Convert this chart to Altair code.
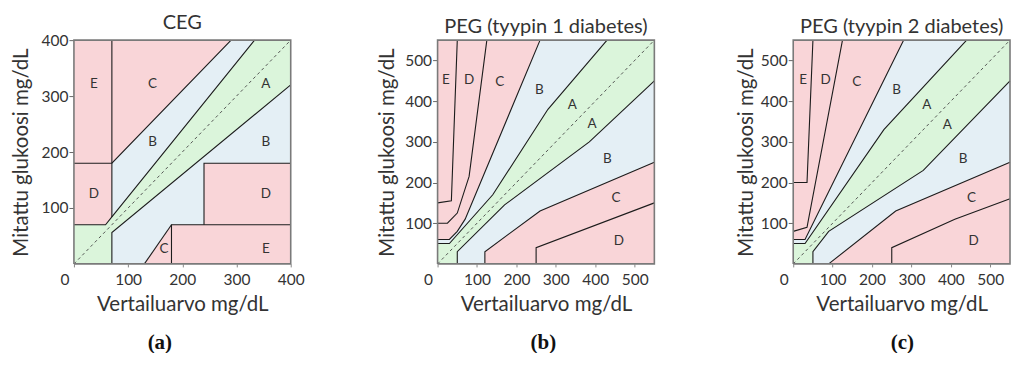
import altair as alt
import pandas as pd

PINK = "#f9d5d8"
BLUE = "#e4eff5"
GREEN = "#dbf5db"
LINE = "#1c1c1c"
TXT = "#333333"

# ---------------- CEG (Clarke error grid) ----------------
ceg_max = 400
ceg_xticks = [0, 100, 200, 300, 400]
ceg_yticks = [100, 200, 300, 400]
ceg_zone_b = [[(0, 0), (400, 0), (400, 400), (0, 400), (0, 0)]]
ceg_zone_a = [[(0, 0), (0, 70), (58.33, 70), (70, 84), (333.33, 400), (400, 400),
               (400, 320), (70, 56), (70, 0)]]
ceg_zone_red = [
    [(0, 70), (0, 400), (290, 400), (70, 180), (70, 84), (58.33, 70)],
    [(130, 0), (180, 70), (400, 70), (400, 0)],
    [(240, 70), (240, 180), (400, 180), (400, 70)],
]
ceg_lines = [
    [(0, 70), (58.33, 70), (70, 84), (333.33, 400)],
    [(70, 0), (70, 56), (400, 320)],
    [(70, 84), (70, 400)],
    [(0, 180), (70, 180), (290, 400)],
    [(130, 0), (180, 70)],
    [(180, 0), (180, 70), (400, 70)],
    [(240, 70), (240, 180), (400, 180)],
]
ceg_labels = ["E", "C", "A", "B", "B", "D", "D", "C", "E"]
ceg_label_x = [37, 145, 354, 145, 354, 37, 354, 166, 354]
ceg_label_y = [321, 321, 321, 218, 218, 125, 125, 27, 27]

# ---------------- PEG type 1 ----------------
peg_max = 550
peg_xticks = [0, 100, 200, 300, 400, 500]
peg_yticks = [100, 200, 300, 400, 500]
peg1_zone_b = [[(0, 0), (550, 0), (550, 550), (0, 550), (0, 0)]]
peg1_zone_a = [[(0, 0), (0, 50), (30, 50), (140, 170), (280, 380), (430, 550), (550, 550),
                (550, 450), (385, 300), (170, 145), (50, 30), (50, 0)]]
peg1_zone_red = [
    [(0, 60), (30, 60), (50, 80), (70, 110), (260, 550), (0, 550)],
    [(120, 0), (120, 30), (260, 130), (550, 250), (550, 0)],
]
peg1_lines = [
    [(0, 50), (30, 50), (140, 170), (280, 380), (430, 550)],
    [(50, 0), (50, 30), (170, 145), (385, 300), (550, 450)],
    [(0, 60), (30, 60), (50, 80), (70, 110), (260, 550)],
    [(120, 0), (120, 30), (260, 130), (550, 250)],
    [(0, 100), (25, 100), (50, 125), (80, 215), (125, 550)],
    [(250, 0), (250, 40), (550, 150)],
    [(0, 150), (35, 155), (50, 550)],
]
peg1_labels = ["E", "D", "C", "B", "A", "A", "B", "C", "D"]
peg1_label_x = [21, 80, 158, 258, 342, 392, 431, 453, 460]
peg1_label_y = [452, 452, 447, 427, 391, 343, 259, 161, 57]

# ---------------- PEG type 2 ----------------
peg2_zone_b = [[(0, 0), (550, 0), (550, 550), (0, 550), (0, 0)]]
peg2_zone_a = [[(0, 0), (0, 50), (30, 50), (230, 330), (440, 550), (550, 550),
                (550, 450), (330, 230), (90, 80), (50, 30), (50, 0)]]
peg2_zone_red = [
    [(0, 60), (30, 60), (280, 550), (0, 550)],
    [(90, 0), (260, 130), (550, 250), (550, 0)],
]
peg2_lines = [
    [(0, 50), (30, 50), (230, 330), (440, 550)],
    [(50, 0), (50, 30), (90, 80), (330, 230), (550, 450)],
    [(0, 60), (30, 60), (280, 550)],
    [(90, 0), (260, 130), (550, 250)],
    [(0, 80), (35, 90), (125, 550)],
    [(250, 0), (250, 40), (410, 110), (550, 160)],
    [(0, 200), (35, 200), (50, 550)],
]
peg2_labels = ["E", "D", "C", "B", "A", "A", "B", "C", "D"]
peg2_label_x = [25, 82, 161, 262, 339, 391, 431, 452, 458]
peg2_label_y = [452, 452, 447, 427, 391, 342, 259, 161, 57]


def to_df(polys):
    rows = []
    for k, pts in enumerate(polys):
        for i, (x, y) in enumerate(pts):
            rows.append({"x": x, "y": y, "pid": k, "i": i})
    return pd.DataFrame(rows)


def panel(title, caption, cap_dx, ytp, vmax, xticks, yticks, zb, za, zr, lines, lt, lx, ly):
    X = alt.X("x:Q", scale=alt.Scale(domain=[0, vmax], nice=False, zero=False),
              title="Vertailuarvo mg/dL",
              axis=alt.Axis(values=xticks, grid=False, domain=False, labelFlush=False,
                            tickSize=3, tickColor="#888", labelPadding=6,
                            labelAlign={"condition": {"test": "datum.value === 0", "value": "right"}, "value": "center"},
                            labelOffset={"condition": {"test": "datum.value === 0", "value": -5}, "value": 0},
                            labelFont="Lato", labelFontSize=15.5, labelColor=TXT,
                            titleFont="Lato", titleFontSize=20.5, titleFontWeight="normal",
                            titleColor=TXT, titlePadding=6))
    Y = alt.Y("y:Q", scale=alt.Scale(domain=[0, vmax], nice=False, zero=False),
              title="Mitattu glukoosi mg/dL",
              axis=alt.Axis(values=yticks, grid=False, domain=False,
                            tickSize=5, tickColor="#666", labelPadding=1,
                            labelFont="Lato", labelFontSize=15.5, labelColor=TXT,
                            titleFont="Lato", titleFontSize=20.5, titleFontWeight="normal",
                            titleColor=TXT, titlePadding=ytp))
    fb = alt.Chart(to_df(zb)).mark_line(filled=True).encode(
        x=X, y=Y, detail="pid:N", order="i:Q", color=alt.value(BLUE))
    fa = alt.Chart(to_df(za)).mark_line(filled=True).encode(
        x=X, y=Y, detail="pid:N", order="i:Q", color=alt.value(GREEN))
    fr = alt.Chart(to_df(zr)).mark_line(filled=True).encode(
        x=X, y=Y, detail="pid:N", order="i:Q", color=alt.value(PINK))
    diag = alt.Chart(to_df([[(0, 0), (vmax, vmax)]])).mark_line(
        color="#444", strokeWidth=0.9, strokeDash=[3, 3]).encode(
        x=X, y=Y, detail="pid:N", order="i:Q")
    ln = alt.Chart(to_df(lines)).mark_line(color=LINE, strokeWidth=1.1).encode(
        x=X, y=Y, detail="pid:N", order="i:Q")
    frame = alt.Chart(to_df(zb)).mark_line(color="#7a7a7a", strokeWidth=1.6).encode(
        x=X, y=Y, detail="pid:N", order="i:Q")
    txt = alt.Chart(pd.DataFrame({"x": lx, "y": ly, "t": lt})).mark_text(
        font="Lato", fontSize=13.5, color=TXT).encode(x=X, y=Y, text="t:N")
    layer = alt.layer(fb, fa, fr, diag, ln, frame, txt).properties(
        width=217, height=224,
        title=alt.Title(title, font="Lato", fontSize=20, fontWeight="normal",
                        color=TXT, offset=0, anchor="middle"))
    return alt.vconcat(layer, title=alt.Title(caption, orient="bottom", anchor="middle",
                                              font="Liberation Serif", fontWeight="bold",
                                              fontSize=21, color="#111", offset=17, dx=cap_dx))


pa = panel("CEG", "(a)", 2, 9.5, ceg_max, ceg_xticks, ceg_yticks, ceg_zone_b, ceg_zone_a,
           ceg_zone_red, ceg_lines, ceg_labels, ceg_label_x, ceg_label_y)
pb = panel("PEG (tyypin 1 diabetes)", "(b)", 26, 7.5, peg_max, peg_xticks, peg_yticks, peg1_zone_b,
           peg1_zone_a, peg1_zone_red, peg1_lines, peg1_labels, peg1_label_x, peg1_label_y)
pc = panel("PEG (tyypin 2 diabetes)", "(c)", 27.5, 3.5, peg_max, peg_xticks, peg_yticks, peg2_zone_b,
           peg2_zone_a, peg2_zone_red, peg2_lines, peg2_labels, peg2_label_x, peg2_label_y)

chart = alt.hconcat(alt.hconcat(pa, pb, spacing=72), pc, spacing=78).properties(
    padding={"left": 3, "top": 5, "right": 0, "bottom": 0}
).configure_view(strokeWidth=0)

chart.save("out.html", embed_options={"renderer": "svg", "actions": False})
